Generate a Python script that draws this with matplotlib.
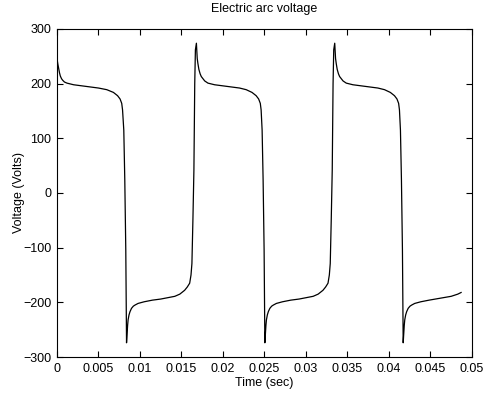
import numpy as np
import matplotlib
matplotlib.use("Agg")
import matplotlib.pyplot as plt

plt.rcParams['font.family'] = ['Liberation Sans', 'DejaVu Sans']

# time (s) and arc voltage (V)
t = [0.0, 0.0001, 0.0002, 0.0003, 0.0004, 0.00055, 0.0007, 0.0009, 0.0012, 0.002,
     0.003, 0.004, 0.005, 0.006,
     0.0068, 0.0073, 0.0076, 0.0078, 0.0079, 0.00805, 0.00817, 0.00829, 0.00838,
     0.00845, 0.00851, 0.00857, 0.00868, 0.0088, 0.00898, 0.0092, 0.0094, 0.00977,
     0.0105, 0.0115,
     0.0125, 0.0135, 0.0142, 0.0148, 0.01538, 0.0157, 0.01599, 0.01615,
     0.01626, 0.01638, 0.0165, 0.0166, 0.01668, 0.0168,
     0.01685, 0.0169, 0.01698, 0.0171, 0.01725, 0.01739, 0.0178, 0.01819,
     0.01899, 0.0200, 0.0210, 0.0220, 0.0228,
     0.0235, 0.0240, 0.0243, 0.0245, 0.0246, 0.02472, 0.02484, 0.02496, 0.02505,
     0.02512, 0.02518, 0.02524, 0.02535, 0.02547, 0.02565, 0.02587, 0.02607,
     0.02644, 0.02717, 0.02817,
     0.02917, 0.03017, 0.03087, 0.03147, 0.03205, 0.03237, 0.03266, 0.03282,
     0.03293, 0.03305, 0.03317, 0.03327, 0.03335, 0.03347,
     0.03352, 0.03357, 0.03365, 0.03377, 0.03392, 0.03406, 0.03447, 0.03486,
     0.03566, 0.03667, 0.03767, 0.03867, 0.03947,
     0.04017, 0.04067, 0.04097, 0.04117, 0.04127, 0.04139, 0.04151, 0.04163, 0.04172,
     0.04179, 0.04185, 0.04191, 0.04202, 0.04214, 0.04232, 0.04254, 0.04274,
     0.04311, 0.04384, 0.04484,
     0.0460, 0.0475, 0.0483, 0.0487]
v = [246, 236, 228, 220, 214, 209, 206, 203, 201, 198,
     196, 194, 192, 189,
     184, 178, 172, 164, 152, 115, 24, -104, -274,
     -255, -242, -232, -223, -217, -211, -207, -205, -202,
     -199, -196,
     -194, -191, -189, -185, -178, -172, -165, -150,
     -129, -49, 42, 200, 262, 274,
     258, 246, 237, 226, 218, 213, 205, 201,
     198, 196, 194, 192, 189,
     184, 178, 172, 164, 152, 115, 24, -104, -274,
     -255, -242, -232, -223, -217, -211, -207, -205,
     -202, -199, -196,
     -194, -191, -189, -185, -178, -172, -165, -150,
     -129, -49, 42, 200, 262, 274,
     258, 246, 237, 226, 218, 213, 205, 201,
     198, 196, 194, 192, 189,
     184, 178, 172, 164, 152, 115, 24, -104, -274,
     -255, -242, -232, -223, -217, -211, -207, -205,
     -202, -199, -196,
     -193, -189, -185, -182]

xticks = [0, 0.005, 0.01, 0.015, 0.02, 0.025, 0.03, 0.035, 0.04, 0.045, 0.05]
xlabels = ['0', '0.005', '0.01', '0.015', '0.02', '0.025', '0.03', '0.035', '0.04', '0.045', '0.05']
yticks = [-300, -200, -100, 0, 100, 200, 300]

fig = plt.figure(figsize=(4.83, 3.95), dpi=100)
ax = fig.add_axes([0.118, 0.0962, 0.859, 0.8304])
ax.plot(t, v, color='black', linewidth=0.9)

ax.set_xlim(0, 0.05)
ax.set_ylim(-300, 300)
ax.set_xticks(xticks)
ax.set_xticklabels(xlabels)
ax.set_yticks(yticks)
ax.tick_params(direction='in', length=4, width=0.8, labelsize=9,
               top=True, right=True, pad=4)
for s in ax.spines.values():
    s.set_linewidth(0.8)

ax.set_title('Electric arc voltage', fontsize=9, pad=12)
ax.set_xlabel('Time (sec)', fontsize=9, labelpad=1.5)
ax.set_ylabel('Voltage (Volts)', fontsize=9, labelpad=-1)

fig.savefig('out.png', dpi=100)
